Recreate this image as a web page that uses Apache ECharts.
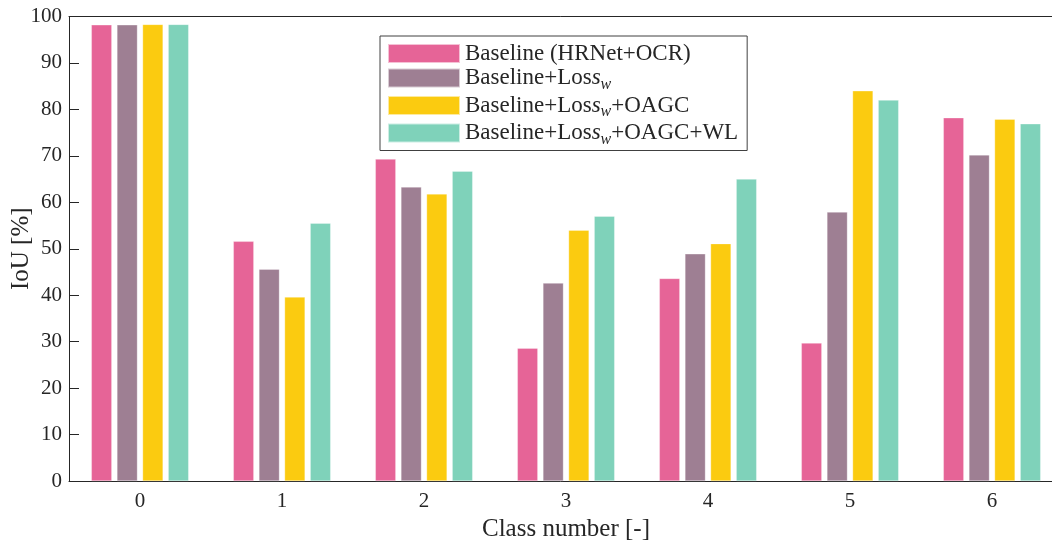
<!DOCTYPE html>
<html>
<head>
<meta charset="utf-8">
<script src="https://cdn.jsdelivr.net/npm/echarts@6/dist/echarts.min.js"></script>
<style>
  html, body { margin: 0; padding: 0; background: #fff; }
  #chart { width: 1052px; height: 542px; }
</style>
</head>
<body>
<div id="chart"></div>
<script>
const categories = ['0', '1', '2', '3', '4', '5', '6']
const yTicks = [0, 10, 20, 30, 40, 50, 60, 70, 80, 90, 100]

const seriesNames = [
  'Baseline (HRNet+OCR)',
  'Baseline+Loss_w',
  'Baseline+Loss_w+OAGC',
  'Baseline+Loss_w+OAGC+WL',
]
const baseline = [98.2, 51.6, 69.3, 28.6, 43.6, 29.7, 78.2]
const baselineLoss = [98.2, 45.6, 63.3, 42.6, 48.9, 57.9, 70.2]
const baselineLossOagc = [98.3, 39.6, 61.8, 54.0, 51.1, 84.0, 77.9]
const baselineLossOagcWl = [98.3, 55.5, 66.7, 57.0, 65.0, 82.0, 76.9]

const colors = ['#e66497', '#9e7f93', '#fbcb10', '#7fd2ba']
const font = 'Liberation Serif'
const ink = '#262626'

// legend labels with the italic s and subscript w
const legendRich = {
  'Baseline (HRNet+OCR)': '{a|Baseline (HRNet+OCR)}',
  'Baseline+Loss_w': '{a|Baseline+Los}{i|s}{s|w}',
  'Baseline+Loss_w+OAGC': '{a|Baseline+Los}{i|s}{s|w}{a|+OAGC}',
  'Baseline+Loss_w+OAGC+WL': '{a|Baseline+Los}{i|s}{s|w}{a|+OAGC+WL}',
}

const chart = echarts.init(document.getElementById('chart'))

const values = [baseline, baselineLoss, baselineLossOagc, baselineLossOagcWl]

chart.setOption({
  animation: false,
  textStyle: { fontFamily: font, color: ink },
  grid: { left: 69, top: 16.5, width: 994, height: 464.5, containLabel: false, outerBoundsMode: 'none' },
  legend: {
    orient: 'vertical',
    left: 380,
    top: 36,
    padding: [6, 9, 3, 7],
    itemWidth: 72,
    itemHeight: 19,
    itemGap: 1.5,
    icon: 'rect',
    borderColor: '#404040',
    borderWidth: 1,
    backgroundColor: '#fff',
    data: seriesNames,
    formatter: (name) => legendRich[name],
    textStyle: {
      fontFamily: font,
      fontSize: 23,
      color: ink,
      rich: {
        a: { fontFamily: font, fontSize: 23, color: ink, lineHeight: 19 },
        i: { fontFamily: font, fontSize: 23, fontStyle: 'italic', color: ink, lineHeight: 19 },
        s: { fontFamily: font, fontSize: 16, fontStyle: 'italic', color: ink, lineHeight: 6, verticalAlign: 'top', padding: [8, 0, 0, 0] },
      },
    },
  },
  xAxis: [
    {
      type: 'category',
      data: categories,
      position: 'bottom',
      name: 'Class number [-]',
      nameLocation: 'middle',
      nameGap: 33,
      nameTextStyle: { fontFamily: font, fontSize: 25, color: ink },
      axisLine: { lineStyle: { color: ink, width: 1 } },
      axisTick: { inside: true, length: 10, alignWithLabel: true, lineStyle: { color: ink } },
      axisLabel: { fontFamily: font, fontSize: 21, color: ink, margin: 10 },
      splitLine: { show: false },
    },
    {
      type: 'category',
      data: categories,
      position: 'top',
      axisLine: { lineStyle: { color: ink, width: 1 } },
      axisTick: { inside: true, length: 10, alignWithLabel: true, lineStyle: { color: ink } },
      axisLabel: { show: false },
      splitLine: { show: false },
    },
  ],
  yAxis: {
    type: 'value',
    min: yTicks[0],
    max: yTicks[yTicks.length - 1],
    interval: 10,
    name: 'IoU [%]',
    nameLocation: 'middle',
    nameRotate: 90,
    nameMoveOverlap: false,
    nameGap: 35,
    nameTextStyle: { fontFamily: font, fontSize: 25, color: ink },
    axisLine: { show: true, lineStyle: { color: ink, width: 1 } },
    axisTick: { show: true, inside: true, length: 10, lineStyle: { color: ink } },
    axisLabel: { fontFamily: font, fontSize: 21, color: ink, margin: 7 },
    splitLine: { show: false },
  },
  series: seriesNames.map((name, i) => ({
    name,
    type: 'bar',
    data: values[i],
    barWidth: 20.5,
    barGap: '25%',
    itemStyle: { color: colors[i], borderColor: 'rgba(255,255,255,0.6)', borderWidth: 0.5 },
  })),
})
</script>
</body>
</html>
